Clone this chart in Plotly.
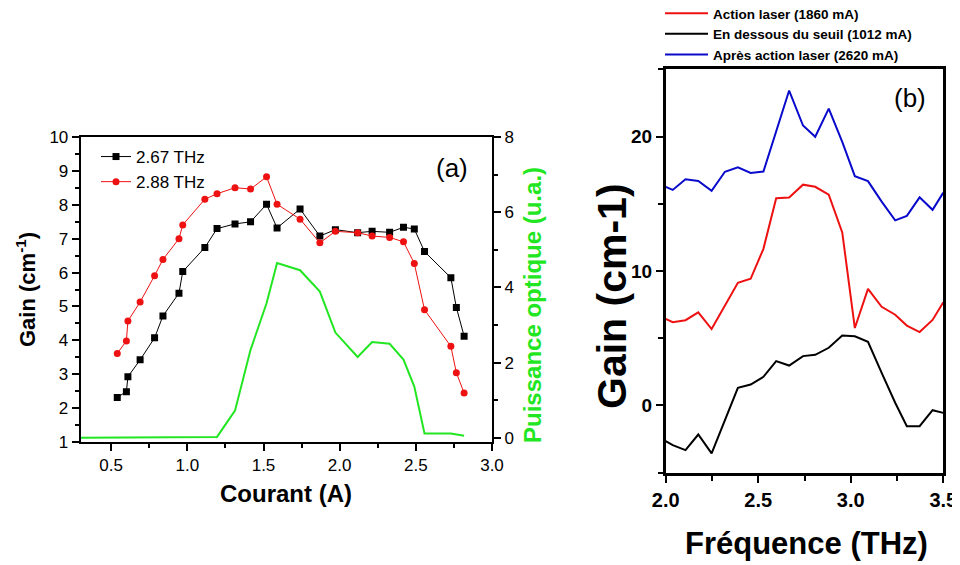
import plotly.graph_objects as go

# ---------------- Panel (a) data ----------------
courant = [0.54, 0.60, 0.61, 0.69, 0.785, 0.84, 0.945, 0.97, 1.115, 1.195, 1.313,
           1.415, 1.52, 1.589, 1.74, 1.87, 1.972, 2.118, 2.213, 2.328, 2.419, 2.49,
           2.557, 2.73, 2.766, 2.817]
gain_267 = [2.31, 2.48, 2.92, 3.42, 4.07, 4.72, 5.39, 6.03, 6.74, 7.30, 7.44,
            7.50, 8.02, 7.32, 7.88, 7.08, 7.27, 7.18, 7.22, 7.19, 7.34, 7.29,
            6.62, 5.85, 4.97, 4.12]
gain_288 = [3.61, 3.98, 4.57, 5.13, 5.91, 6.39, 7.00, 7.41, 8.17, 8.33, 8.51,
            8.47, 8.83, 8.02, 7.58, 6.88, 7.22, 7.18, 7.08, 7.04, 6.91, 6.27,
            4.90, 3.82, 3.04, 2.44]
courant_puissance = [0.30, 0.54, 0.60, 0.61, 0.69, 0.785, 0.84, 0.945, 0.97, 1.115,
                     1.195, 1.313, 1.415, 1.52, 1.589, 1.74, 1.87, 1.972, 2.118,
                     2.213, 2.328, 2.419, 2.49, 2.557, 2.73, 2.817]
puissance = [0, 0, 0, 0, 0, 0, 0, 0, 0, 0,
             0.02, 0.72, 2.34, 3.58, 4.65, 4.46, 3.89, 2.80, 2.15,
             2.55, 2.50, 2.08, 1.36, 0.11, 0.11, 0.05]

# ---------------- Panel (b) data ----------------
freq = [2.0, 2.038, 2.107, 2.176, 2.248, 2.32, 2.39, 2.459, 2.528, 2.597, 2.667,
        2.742, 2.808, 2.881, 2.954, 3.022, 3.093, 3.167, 3.24, 3.303, 3.372, 3.442, 3.5]
gain_action = [6.44, 6.19, 6.34, 6.93, 5.68, 7.40, 9.12, 9.42, 11.65, 15.41, 15.46,
               16.42, 16.26, 15.67, 12.87, 5.76, 8.67, 7.34, 6.75, 5.94, 5.46, 6.36, 7.67]
gain_dessous = [-2.65, -2.95, -3.32, -2.16, -3.56, -1.05, 1.31, 1.56, 2.13, 3.30, 2.97,
                3.67, 3.77, 4.29, 5.20, 5.15, 4.73, 2.43, 0.20, -1.54, -1.54, -0.35, -0.55]
gain_apres = [16.26, 16.03, 16.82, 16.69, 15.96, 17.38, 17.71, 17.29, 17.40, 20.3, 23.42,
              20.82, 19.98, 22.08, 19.6, 17.05, 16.68, 15.16, 13.77, 14.10, 15.48, 14.55, 15.83]

FONT = "Arial, Liberation Sans, sans-serif"
GREEN = "#22e622"
RED = "#ee1111"
BLUE = "#0a0acc"

fig = go.Figure()

fig.add_trace(go.Scatter(x=courant, y=gain_267, mode="lines+markers", name="2.67 THz",
                         line=dict(color="black", width=1),
                         marker=dict(symbol="square", size=7, color="black"),
                         xaxis="x", yaxis="y", legend="legend"))
fig.add_trace(go.Scatter(x=courant, y=gain_288, mode="lines+markers", name="2.88 THz",
                         line=dict(color=RED, width=1),
                         marker=dict(symbol="circle", size=7, color=RED),
                         xaxis="x", yaxis="y", legend="legend"))
fig.add_trace(go.Scatter(x=courant_puissance, y=puissance, mode="lines", name="Puissance",
                         line=dict(color=GREEN, width=2), showlegend=False,
                         xaxis="x", yaxis="y2"))

fig.add_trace(go.Scatter(x=freq, y=gain_action, mode="lines", name="Action laser (1860 mA)",
                         line=dict(color=RED, width=2), xaxis="x2", yaxis="y3", legend="legend2"))
fig.add_trace(go.Scatter(x=freq, y=gain_dessous, mode="lines", name="En dessous du seuil (1012 mA)",
                         line=dict(color="black", width=2), xaxis="x2", yaxis="y3", legend="legend2"))
fig.add_trace(go.Scatter(x=freq, y=gain_apres, mode="lines", name="Après action laser (2620 mA)",
                         line=dict(color=BLUE, width=2), xaxis="x2", yaxis="y3", legend="legend2"))

# page has an 8px body margin: the figure is drawn at (8, 8)
OFF = 8
W, H = 960 - OFF, 565 - OFF
def px(x):
    return (x - OFF) / W
def py(y):
    return 1 - (y - OFF) / H

axis_a = dict(showgrid=False, zeroline=False, showline=True, linecolor="black", linewidth=2,
              ticks="outside", ticklen=7, tickwidth=1.5, tickcolor="black", automargin=False,
              tickfont=dict(family=FONT, size=17, color="black"))

fig.update_layout(
    width=W, height=H,
    margin=dict(l=0, r=0, t=0, b=0, pad=0, autoexpand=False),
    paper_bgcolor="white", plot_bgcolor="white",
    font=dict(family=FONT, color="black"),
    xaxis=dict(axis_a, domain=[px(80.7), px(492)], range=[0.3, 3.0], tick0=0, dtick=0.5,
               tickformat=".1f", mirror=True, anchor="y",
               minor=dict(dtick=0.25, ticks="outside", ticklen=4, tickwidth=1.5, tickcolor="black")),
    yaxis=dict(axis_a, domain=[py(441.7), py(137.3)], range=[1, 10], tick0=0, dtick=1,
               anchor="x",
               minor=dict(dtick=0.5, ticks="outside", ticklen=4, tickwidth=1.5, tickcolor="black")),
    yaxis2=dict(axis_a, overlaying="y", side="right", range=[-0.107, 8], tick0=0, dtick=2,
                anchor="x",
                minor=dict(dtick=1, ticks="outside", ticklen=4, tickwidth=1.5, tickcolor="black")),
    xaxis2=dict(showgrid=False, zeroline=False, showline=True, linecolor="black", linewidth=2.5,
                ticks="outside", ticklen=8, tickwidth=2, tickcolor="black", automargin=False,
                tickfont=dict(family=FONT, size=20, color="black", weight="bold"),
                domain=[px(665.7), px(943.3)], range=[2.0, 3.5], tick0=0, dtick=0.5,
                tickformat=".1f", mirror=True, anchor="y3",
                minor=dict(dtick=0.25, ticks="outside", ticklen=6, tickwidth=2, tickcolor="black")),
    yaxis3=dict(showgrid=False, zeroline=False, showline=True, linecolor="black", linewidth=2.5,
                ticks="outside", ticklen=7, tickwidth=2, tickcolor="black", automargin=False,
                tickfont=dict(family=FONT, size=19, color="black", weight="bold"),
                domain=[py(472.7), py(69.3)], range=[-5, 25], tick0=0, dtick=10,
                mirror=True, anchor="x2",
                minor=dict(dtick=5, ticks="outside", ticklen=5, tickwidth=2, tickcolor="black")),
    legend=dict(x=px(96), y=py(139), xanchor="left", yanchor="top",
                bgcolor="rgba(0,0,0,0)", borderwidth=0, tracegroupgap=0,
                font=dict(family=FONT, size=17, color="black")),
    legend2=dict(x=px(660), y=py(-2), xanchor="left", yanchor="top",
                 bgcolor="rgba(0,0,0,0)", borderwidth=0, tracegroupgap=0, itemwidth=43,
                 font=dict(family=FONT, size=13.5, color="black", weight="bold")),
    showlegend=True,
)

annotations = [
    dict(text="Gain (cm<sup>-1</sup>)", x=px(26), y=py(290), textangle=-90,
         font=dict(family=FONT, size=22, color="black", weight="bold")),
    dict(text="Courant (A)", x=px(286), y=py(493),
         font=dict(family=FONT, size=24, color="black", weight="bold")),
    dict(text="Puissance optique (u.a.)", x=px(532), y=py(305), textangle=-90,
         font=dict(family=FONT, size=24, color=GREEN, weight="bold")),
    dict(text="(a)", x=px(452), y=py(168), font=dict(family=FONT, size=26, color="black")),
    dict(text="(b)", x=px(910), y=py(98), font=dict(family=FONT, size=26, color="black")),
    dict(text="Gain (cm-1)", x=px(612), y=py(296), textangle=-90,
         font=dict(family=FONT, size=41, color="black", weight="bold")),
    dict(text="Fréquence (THz)", x=px(806), y=py(543),
         font=dict(family=FONT, size=31, color="black", weight="bold")),
]
for a in annotations:
    a.update(xref="paper", yref="paper", showarrow=False, xanchor="center", yanchor="middle")
fig.update_layout(annotations=annotations)

fig.write_html("out.html")
